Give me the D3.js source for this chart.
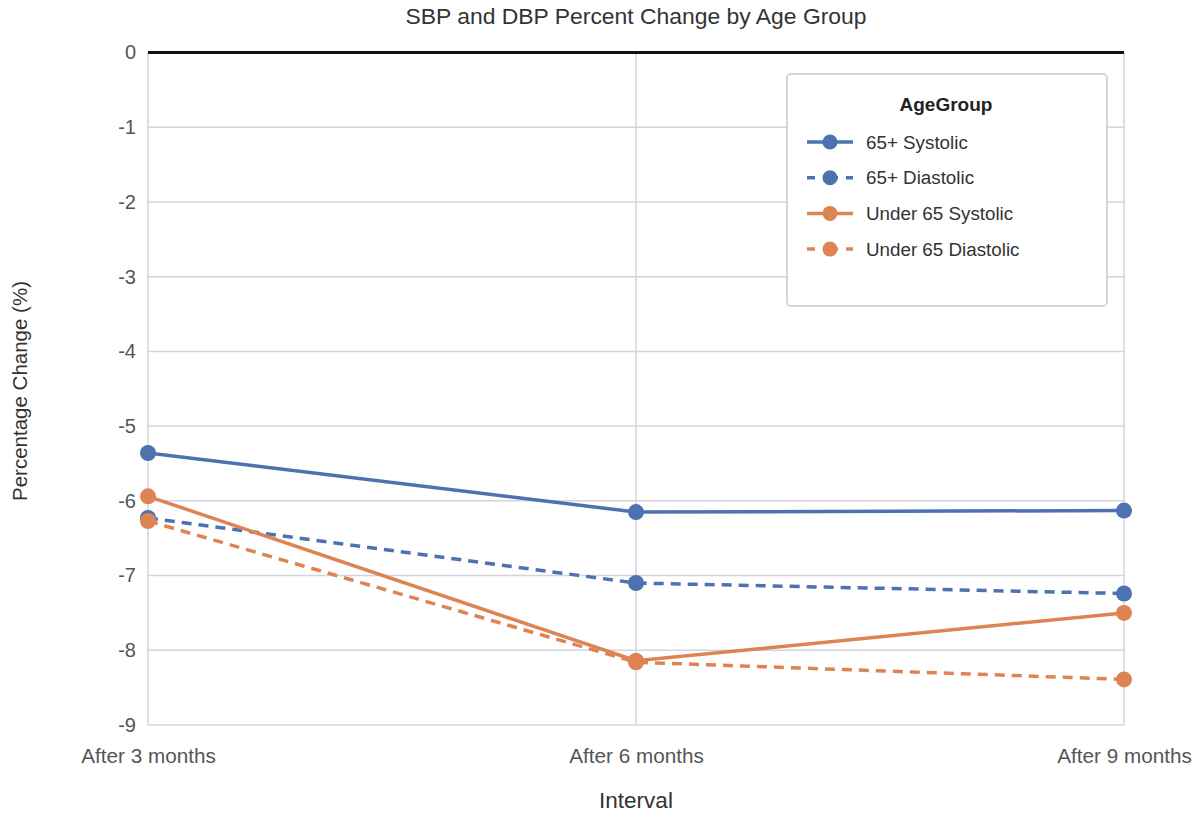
<!DOCTYPE html>
<html><head><meta charset="utf-8">
<script src="https://cdn.jsdelivr.net/npm/d3@7"></script>
<style>body{margin:0;background:#fff;font-family:"Liberation Sans",Arial,sans-serif;}</style>
</head><body>
<svg id="chart" width="1202" height="817"></svg>
<script>
const intervals = ["After 3 months", "After 6 months", "After 9 months"];
const seriesNames = ["65+ Systolic", "65+ Diastolic", "Under 65 Systolic", "Under 65 Diastolic"];
const sys65 = [-5.36, -6.15, -6.13];
const dia65 = [-6.23, -7.10, -7.24];
const sysU65 = [-5.94, -8.14, -7.50];
const diaU65 = [-6.27, -8.16, -8.39];
const yTicks = [0, -1, -2, -3, -4, -5, -6, -7, -8, -9];

const blue = "#4c72b0", orange = "#dd8452";
const series = [
  {name: seriesNames[0], values: sys65, color: blue, dash: null},
  {name: seriesNames[1], values: dia65, color: blue, dash: "10,7"},
  {name: seriesNames[2], values: sysU65, color: orange, dash: null},
  {name: seriesNames[3], values: diaU65, color: orange, dash: "10,7"}
];

const svg = d3.select("#chart");
const L = 148, R = 1124, T = 52.5, B = 725;
const x = d3.scalePoint().domain(intervals).range([L, R]).padding(0);
const y = d3.scaleLinear().domain([0, -9]).range([T, B]);
const FF = "Liberation Sans, Arial, sans-serif";

// gridlines
svg.append("g").selectAll("line").data(yTicks.filter(d => d !== 0)).join("line")
  .attr("x1", L).attr("x2", R).attr("y1", d => y(d)).attr("y2", d => y(d))
  .attr("stroke", "#d4d4dc").attr("stroke-width", 1.5);
svg.append("g").selectAll("line").data(intervals).join("line")
  .attr("x1", d => x(d)).attr("x2", d => x(d)).attr("y1", T).attr("y2", B)
  .attr("stroke", "#d4d4dc").attr("stroke-width", 1.5);
// zero line
svg.append("line").attr("x1", L).attr("x2", R).attr("y1", y(0)).attr("y2", y(0))
  .attr("stroke", "#111").attr("stroke-width", 3);

// axes
const yAxis = d3.axisLeft(y).tickValues(yTicks).tickSize(0).tickPadding(12).tickFormat(d => String(d));
const gy = svg.append("g").attr("transform", `translate(${L},0)`).call(yAxis);
gy.select(".domain").remove();
gy.selectAll("text").attr("font-size", 20).attr("fill", "#555").attr("font-family", FF);

const xAxis = d3.axisBottom(x).tickSize(0).tickPadding(23);
const gx = svg.append("g").attr("transform", `translate(0,${B})`).call(xAxis);
gx.select(".domain").remove();
gx.selectAll("text").attr("font-size", 20.7).attr("fill", "#555").attr("font-family", FF);

// lines
const line = d3.line().x((d, i) => x(intervals[i])).y(d => y(d));
series.forEach(s => {
  svg.append("path").datum(s.values).attr("d", line)
    .attr("fill", "none").attr("stroke", s.color).attr("stroke-width", 3.5)
    .attr("stroke-dasharray", s.dash);
});
series.forEach(s => {
  svg.append("g").selectAll("circle").data(s.values).join("circle")
    .attr("cx", (d, i) => x(intervals[i])).attr("cy", d => y(d)).attr("r", 8)
    .attr("fill", s.color);
});

// title and axis labels
svg.append("text").attr("x", 636).attr("y", 24).attr("text-anchor", "middle")
  .attr("font-size", 22.9).attr("fill", "#333").text("SBP and DBP Percent Change by Age Group");
svg.append("text").attr("x", 636).attr("y", 808).attr("text-anchor", "middle")
  .attr("font-size", 22.5).attr("fill", "#333").text("Interval");
svg.append("text").attr("transform", "translate(27,391) rotate(-90)").attr("text-anchor", "middle")
  .attr("font-size", 20.5).attr("fill", "#333").text("Percentage Change (%)");

// legend
const lg = svg.append("g");
lg.append("rect").attr("x", 787).attr("y", 74).attr("width", 320).attr("height", 232)
  .attr("rx", 4).attr("fill", "#fff").attr("stroke", "#c8c8c8").attr("stroke-width", 1.5);
lg.append("text").attr("x", 946).attr("y", 111).attr("text-anchor", "middle")
  .attr("font-size", 19).attr("font-weight", "bold").attr("fill", "#222").text("AgeGroup");
series.forEach((s, i) => {
  const yy = 142 + i * 35.7;
  lg.append("line").attr("x1", 807).attr("x2", 853).attr("y1", yy).attr("y2", yy)
    .attr("stroke", s.color).attr("stroke-width", 3.5).attr("stroke-dasharray", s.dash ? "8,15,8" : null);
  lg.append("circle").attr("cx", 830).attr("cy", yy).attr("r", 7.5).attr("fill", s.color);
  lg.append("text").attr("x", 866).attr("y", yy + 6.5).attr("font-size", 18.8).attr("fill", "#333").text(s.name);
});
</script>
</body></html>
